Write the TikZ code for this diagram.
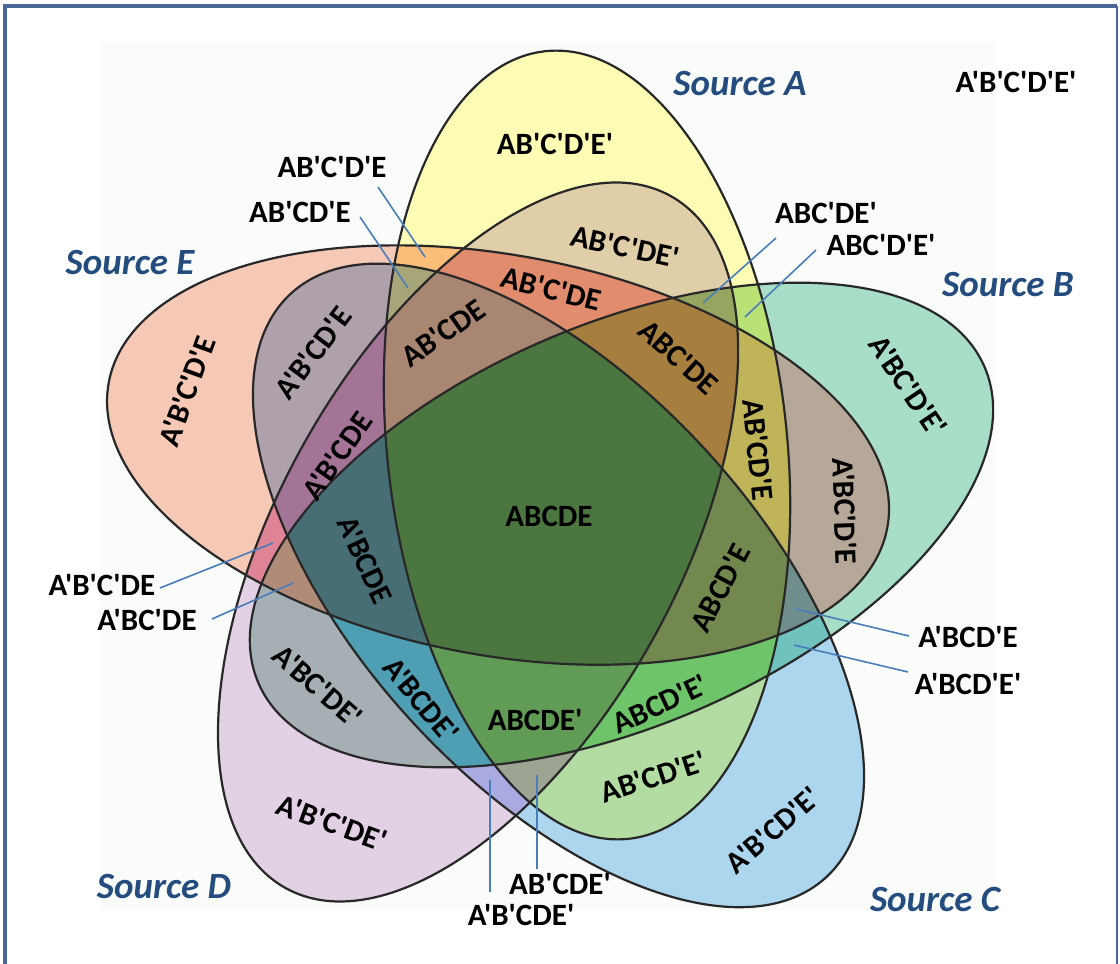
\documentclass[tikz,border=0pt]{standalone}
\usepackage{fontspec}
\setmainfont{Carlito}[Ligatures=TeXOff]
% colours of the 31 zones, named by the sets they lie in
\definecolor{zA}{RGB}{252,252,180}
\definecolor{zB}{RGB}{168,222,200}
\definecolor{zC}{RGB}{172,214,238}
\definecolor{zD}{RGB}{226,208,228}
\definecolor{zE}{RGB}{246,200,182}
\definecolor{zAB}{RGB}{185,225,118}
\definecolor{zAC}{RGB}{178,220,162}
\definecolor{zAD}{RGB}{224,206,168}
\definecolor{zAE}{RGB}{250,190,120}
\definecolor{zBC}{RGB}{112,194,190}
\definecolor{zBD}{RGB}{166,176,180}
\definecolor{zBE}{RGB}{182,168,152}
\definecolor{zCD}{RGB}{170,170,226}
\definecolor{zCE}{RGB}{174,161,172}
\definecolor{zDE}{RGB}{222,132,150}
\definecolor{zABC}{RGB}{110,196,104}
\definecolor{zABD}{RGB}{150,165,95}
\definecolor{zABE}{RGB}{192,180,88}
\definecolor{zACD}{RGB}{158,164,148}
\definecolor{zACE}{RGB}{166,166,120}
\definecolor{zADE}{RGB}{226,140,110}
\definecolor{zBCD}{RGB}{78,158,180}
\definecolor{zBCE}{RGB}{112,142,140}
\definecolor{zBDE}{RGB}{176,140,120}
\definecolor{zCDE}{RGB}{164,116,150}
\definecolor{zABCD}{RGB}{96,156,86}
\definecolor{zABCE}{RGB}{114,136,78}
\definecolor{zABDE}{RGB}{166,126,62}
\definecolor{zACDE}{RGB}{168,134,114}
\definecolor{zBCDE}{RGB}{70,110,116}
\definecolor{zABCDE}{RGB}{76,118,64}
\definecolor{rimcol}{RGB}{40,40,40}
\definecolor{srcblue}{RGB}{36,76,126}
\definecolor{leadblue}{RGB}{74,126,187}
\definecolor{frameblue}{RGB}{72,104,150}
\definecolor{paper}{RGB}{250,252,250}
% the five ellipses
\tikzset{
  setA/.style={rotate around={96:(cA)}},
  setB/.style={rotate around={23.6:(cB)}},
  setC/.style={rotate around={-47.5:(cC)}},
  setD/.style={rotate around={-119.1:(cD)}},
  setE/.style={rotate around={169.4:(cE)}},
}
\newcommand\vennclip[1]{\clip[set#1] (c#1) ellipse [x radius=396, y radius=200];}
\newcommand\vennfill[1]{\fill[z#1, set#1] (c#1) ellipse [x radius=396, y radius=200];}
\newcommand\vennrim[1]{\draw[setrim, set#1] (c#1) ellipse [x radius=396, y radius=200];}
% a zone inside all listed sets, painted before zones of more sets
\newcommand\vennzone[2]{\begin{scope}#1\fill[#2] (0,0) rectangle (1120,964);\end{scope}}
\begin{document}
\begin{tikzpicture}[x=1pt,y=-1pt,
  setrim/.style={draw=rimcol, line width=2.2pt},
  region/.style={font=\fontsize{31}{31}\selectfont\bfseries, inner sep=0pt, text=black},
  source/.style={font=\fontsize{37}{37}\selectfont\bfseries\itshape, inner sep=0pt, text=srcblue},
  leader/.style={draw=leadblue, line width=1.6pt}]
\useasboundingbox (0,0) rectangle (1120,964);
\fill[white] (0,0) rectangle (1120,964);
\fill[paper] (100,43) rectangle (996,910);
% frame
\draw[frameblue, line width=3.5pt] (5,964) -- (5,6) -- (1117,6);
\draw[frameblue, line width=1.2pt] (1117,6) -- (1117,964);

% centres of the five sets
\coordinate (cA) at (587,445);
\coordinate (cB) at (621.5,525);
\coordinate (cC) at (558.5,585.5);
\coordinate (cD) at (478,542);
\coordinate (cE) at (498,455);

% single sets
\vennfill{A}\vennfill{B}\vennfill{C}\vennfill{D}\vennfill{E}
% pairs
\vennzone{\vennclip{A}\vennclip{B}}{zAB}
\vennzone{\vennclip{A}\vennclip{C}}{zAC}
\vennzone{\vennclip{A}\vennclip{D}}{zAD}
\vennzone{\vennclip{A}\vennclip{E}}{zAE}
\vennzone{\vennclip{B}\vennclip{C}}{zBC}
\vennzone{\vennclip{B}\vennclip{D}}{zBD}
\vennzone{\vennclip{B}\vennclip{E}}{zBE}
\vennzone{\vennclip{C}\vennclip{D}}{zCD}
\vennzone{\vennclip{C}\vennclip{E}}{zCE}
\vennzone{\vennclip{D}\vennclip{E}}{zDE}
% triples
\vennzone{\vennclip{A}\vennclip{B}\vennclip{C}}{zABC}
\vennzone{\vennclip{A}\vennclip{B}\vennclip{D}}{zABD}
\vennzone{\vennclip{A}\vennclip{B}\vennclip{E}}{zABE}
\vennzone{\vennclip{A}\vennclip{C}\vennclip{D}}{zACD}
\vennzone{\vennclip{A}\vennclip{C}\vennclip{E}}{zACE}
\vennzone{\vennclip{A}\vennclip{D}\vennclip{E}}{zADE}
\vennzone{\vennclip{B}\vennclip{C}\vennclip{D}}{zBCD}
\vennzone{\vennclip{B}\vennclip{C}\vennclip{E}}{zBCE}
\vennzone{\vennclip{B}\vennclip{D}\vennclip{E}}{zBDE}
\vennzone{\vennclip{C}\vennclip{D}\vennclip{E}}{zCDE}
% quadruples
\vennzone{\vennclip{A}\vennclip{B}\vennclip{C}\vennclip{D}}{zABCD}
\vennzone{\vennclip{A}\vennclip{B}\vennclip{C}\vennclip{E}}{zABCE}
\vennzone{\vennclip{A}\vennclip{B}\vennclip{D}\vennclip{E}}{zABDE}
\vennzone{\vennclip{A}\vennclip{C}\vennclip{D}\vennclip{E}}{zACDE}
\vennzone{\vennclip{B}\vennclip{C}\vennclip{D}\vennclip{E}}{zBCDE}
% all five
\vennzone{\vennclip{A}\vennclip{B}\vennclip{C}\vennclip{D}\vennclip{E}}{zABCDE}

% outlines
\vennrim{A}\vennrim{B}\vennrim{C}\vennrim{D}\vennrim{E}

% set names
\node[source] (sA) at (740,84)  {Source A};
\node[source] (sB) at (1008,285) {Source B};
\node[source] (sC) at (935,899) {Source C};
\node[source] (sD) at (164,887) {Source D};
\node[source] (sE) at (130,263) {Source E};

% zone labels inside the diagram
\node[region] (r00000) at (1016,82) {A'B'C'D'E'};
\node[region] (r10000) at (555,144) {AB'C'D'E'};
\node[region, rotate=-12] (r10010) at (625,247) {AB'C'DE'};
\node[region, rotate=-14] (r10011) at (551,289) {AB'C'DE};
\node[region, rotate=35]  (r10111) at (443,333) {AB'CDE};
\node[region, rotate=-42] (r11011) at (679,357) {ABC'DE};
\node[region, rotate=-84] (r11001) at (758,450) {AB'CD'E};
\node[region, rotate=-56] (r01000) at (908,386) {A'BC'D'E'};
\node[region, rotate=-88] (r01001) at (845,511) {A'BC'D'E};
\node[region, rotate=62]  (r11101) at (720,588) {ABCD'E};
\node[region] (r11111) at (549,516) {ABCDE};
\node[region, rotate=-65] (r01111) at (365,560) {A'BCDE};
\node[region, rotate=55]  (r00111) at (337,456) {A'B'CDE};
\node[region, rotate=53]  (r00101) at (313,353) {A'B'CD'E};
\node[region, rotate=70]  (r00001) at (187,391) {A'B'C'D'E};
\node[region, rotate=-41] (r01010) at (318,686) {A'BC'DE'};
\node[region, rotate=-20] (r00010) at (332,823) {A'B'C'DE'};
\node[region, rotate=-50] (r01110) at (421,700) {A'BCDE'};
\node[region] (r11110) at (535,720) {ABCDE'};
\node[region, rotate=25]  (r11100) at (660,704) {ABCD'E'};
\node[region, rotate=18]  (r10100) at (653,777) {AB'CD'E'};
\node[region, rotate=41]  (r00100) at (773,830) {A'B'CD'E'};

% labels with leader lines
\node[region] (r10101) at (332,167) {AB'C'D'E};
\coordinate (t10001a) at (378,187); \coordinate (t10001b) at (425,257);
\draw[leader] (t10001a) -- (t10001b);

\node[region] (r10101x) at (300,212) {AB'CD'E};
\coordinate (t10101a) at (360,217); \coordinate (t10101b) at (408,288);
\draw[leader] (t10101a) -- (t10101b);

\node[region] (r11010) at (826,213) {ABC'DE'};
\coordinate (t11010a) at (776,238); \coordinate (t11010b) at (703,303);
\draw[leader] (t11010a) -- (t11010b);

\node[region] (r11000) at (881,245) {ABC'D'E'};
\coordinate (t11000a) at (816,250); \coordinate (t11000b) at (745,317);
\draw[leader] (t11000a) -- (t11000b);

\node[region] (r00011) at (102,585) {A'B'C'DE};
\coordinate (t00011a) at (160,588); \coordinate (t00011b) at (273,543);
\draw[leader] (t00011a) -- (t00011b);

\node[region] (r01011) at (147,620) {A'BC'DE};
\coordinate (t01011a) at (212,619); \coordinate (t01011b) at (293,583);
\draw[leader] (t01011a) -- (t01011b);

\node[region] (r01101) at (968,637) {A'BCD'E};
\coordinate (t01101a) at (909,636); \coordinate (t01101b) at (796,609);
\draw[leader] (t01101a) -- (t01101b);

\node[region] (r01100) at (968,684) {A'BCD'E'};
\coordinate (t01100a) at (908,672); \coordinate (t01100b) at (794,645);
\draw[leader] (t01100a) -- (t01100b);

\node[region] (r10110) at (560,884) {AB'CDE'};
\coordinate (t10110a) at (537,869); \coordinate (t10110b) at (537,775);
\draw[leader] (t10110a) -- (t10110b);

\node[region] (r00110) at (521,915) {A'B'CDE'};
\coordinate (t00110a) at (490,892); \coordinate (t00110b) at (490,780);
\draw[leader] (t00110a) -- (t00110b);
\end{tikzpicture}
\end{document}
